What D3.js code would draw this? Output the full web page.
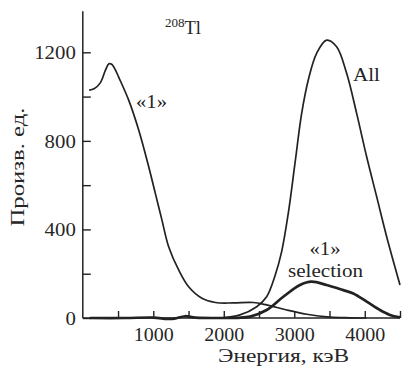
<!DOCTYPE html>
<html>
<head>
<meta charset="utf-8">
<script src="https://cdn.jsdelivr.net/npm/d3@7"></script>
<style>
  html, body { margin: 0; padding: 0; background: #fff; }
  svg { display: block; }
  text { font-family: "Liberation Serif", "Times New Roman", serif; fill: #262626; }
</style>
</head>
<body>
<svg id="chart" width="416" height="369"></svg>
<script>
// ---- data ----
const energyOne = [90, 160, 248, 320, 370, 410, 460, 509, 651, 793, 935, 1029, 1123, 1218, 1360, 1502, 1690, 1880, 2135, 2418, 2608, 2892, 3176, 3506, 3790, 4025];
const valueOne  = [1029, 1035, 1062, 1118, 1148, 1146, 1122, 1088, 984, 849, 683, 563, 442, 322, 217, 141, 89, 70, 68, 70, 59, 36, 17, 4, 1, 0];

const energyAll = [1946, 2230, 2467, 2608, 2726, 2821, 2915, 3010, 3105, 3199, 3317, 3459, 3601, 3743, 3885, 4027, 4169, 4311, 4500];
const valueAll  = [0, 14, 51, 96, 190, 300, 473, 698, 924, 1075, 1195, 1255, 1225, 1105, 924, 728, 548, 367, 149];

const energySel = [100, 600, 1000, 1200, 1300, 1450, 1600, 2000, 2200, 2372, 2608, 2844, 3081, 3246, 3459, 3695, 3837, 4027, 4216, 4357, 4500];
const valueSel  = [0, 0, 2, -4, -3, 8, 2, 0, 1, 6, 36, 96, 149, 164, 149, 126, 111, 74, 36, 14, 3];

const xTicks = [500, 1000, 1500, 2000, 2500, 3000, 3500, 4000, 4500];
const yTicks = [0, 200, 400, 600, 800, 1000, 1200];
const xTitle = "Энергия, кэВ";
const yTitle = "Произв. ед.";

// ---- drawing ----
const svg = d3.select("#chart");
const ink = "#222";

const x = d3.scaleLinear().domain([0, 4500]).range([82.8, 400]);
const y = d3.scaleLinear().domain([0, 1200]).range([318, 52.3]);

// axes
const xAxis = d3.axisBottom(x)
  .tickValues(xTicks)
  .tickSize(-7)
  .tickPadding(10)
  .tickFormat(d => d % 1000 === 0 ? String(d) : "");
const gx = svg.append("g").attr("transform", `translate(0,${y(0)})`).call(xAxis);
gx.select(".domain").remove();
gx.selectAll("line").attr("stroke", ink).attr("stroke-width", 1.4);
gx.selectAll("text").attr("font-size", 18).attr("fill", "#262626")
  .each(function(d) {
    const s = d % 1000 === 0 ? String(d) : "";
    if (s) d3.select(this).attr("textLength", s.length * 10).attr("lengthAdjust", "spacingAndGlyphs");
  });

const yAxis = d3.axisLeft(y)
  .tickValues(yTicks)
  .tickSize(-8)
  .tickPadding(7)
  .tickFormat(d => d % 400 === 0 ? String(d) : "");
const gy = svg.append("g").attr("transform", `translate(${x(0)},0)`).call(yAxis);
gy.select(".domain").remove();
gy.selectAll("line").attr("stroke", ink).attr("stroke-width", 1.4);
gy.selectAll("text").attr("font-size", 18).attr("fill", "#262626").attr("dy", "0.35em")
  .each(function(d) {
    const s = d % 400 === 0 ? String(d) : "";
    if (s) d3.select(this).attr("textLength", s.length * 10.4).attr("lengthAdjust", "spacingAndGlyphs");
  });

// axis lines
svg.append("line")
  .attr("x1", x(0)).attr("x2", x(4500)).attr("y1", y(0)).attr("y2", y(0))
  .attr("stroke", ink).attr("stroke-width", 1.5);
svg.append("line")
  .attr("x1", x(0)).attr("x2", x(0)).attr("y1", y(0)).attr("y2", y(1385))
  .attr("stroke", ink).attr("stroke-width", 1.5);

// curves
const line = d3.line().x(d => x(d[0])).y(d => y(d[1])).curve(d3.curveCatmullRom.alpha(0.5));
const zip = (a, b) => a.map((v, i) => [v, b[i]]);

svg.append("path").attr("d", line(zip(energyOne, valueOne)))
  .attr("fill", "none").attr("stroke", ink).attr("stroke-width", 1.7);
svg.append("path").attr("d", line(zip(energyAll, valueAll)))
  .attr("fill", "none").attr("stroke", ink).attr("stroke-width", 1.7);
svg.append("path").attr("d", line(zip(energySel, valueSel)))
  .attr("fill", "none").attr("stroke", ink).attr("stroke-width", 2.7);

// titles
svg.append("text").attr("x", 283.5).attr("y", 361.7)
  .attr("text-anchor", "middle").attr("font-size", 18)
  .attr("textLength", 131).attr("lengthAdjust", "spacingAndGlyphs")
  .text(xTitle);
svg.append("text")
  .attr("transform", "translate(24,167) rotate(-90)")
  .attr("text-anchor", "middle").attr("font-size", 18)
  .attr("textLength", 119).attr("lengthAdjust", "spacingAndGlyphs")
  .text(yTitle);

// annotations
const iso = svg.append("text").attr("x", 165).attr("y", 34).attr("font-size", 18.5);
iso.append("tspan").attr("font-size", 13).attr("dy", -7).text("208");
iso.append("tspan").attr("dy", 7).text("Tl");

svg.append("text").attr("x", 136).attr("y", 107.5).attr("font-size", 18)
  .attr("textLength", 31).attr("lengthAdjust", "spacingAndGlyphs").text("«1»");
svg.append("text").attr("x", 353).attr("y", 80.7).attr("font-size", 18)
  .attr("textLength", 27).attr("lengthAdjust", "spacingAndGlyphs").text("All");
svg.append("text").attr("x", 309.5).attr("y", 254.5).attr("font-size", 18)
  .attr("textLength", 31).attr("lengthAdjust", "spacingAndGlyphs").text("«1»");
svg.append("text").attr("x", 288).attr("y", 276.5).attr("font-size", 18)
  .attr("textLength", 75).attr("lengthAdjust", "spacingAndGlyphs").text("selection");
</script>
</body>
</html>
